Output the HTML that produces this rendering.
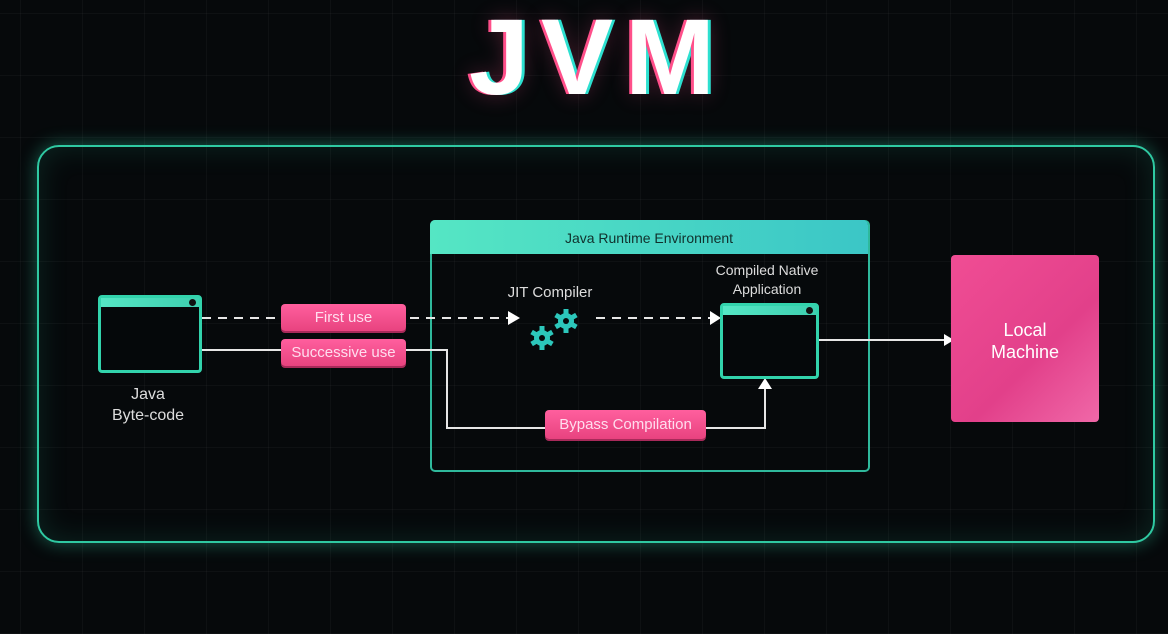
<!DOCTYPE html>
<html><head><style>
body{margin:0;width:1168px;height:634px;overflow:hidden;background:#06090b;font-family:"Liberation Sans",sans-serif;position:relative}
.grid{position:absolute;inset:0;background-image:linear-gradient(rgba(255,255,255,0.03) 1px,transparent 1px),linear-gradient(90deg,rgba(255,255,255,0.03) 1px,transparent 1px);background-size:62px 62px;background-position:20px 13px}
.abs{position:absolute}
.title{left:14px;width:1168px;top:-6px;text-align:center;font-size:108px;font-weight:bold;color:#fff;letter-spacing:12px;text-shadow:-3px 0 #ff4f8a,3px 0 #2de0d0,0 0 22px rgba(255,80,140,.3)}
.outer{left:37px;top:145px;width:1114px;height:394px;border:2px solid #2fc9a2;border-radius:22px;box-shadow:0 0 18px rgba(47,201,162,.45),inset 0 0 30px rgba(47,201,162,.15)}
.jre{left:430px;top:220px;width:436px;height:248px;border:2px solid #2fb99c;border-radius:5px}
.jrehead{left:430px;top:220px;width:438px;height:34px;background:linear-gradient(90deg,#55e6c4,#3bc6c6);border-radius:5px 5px 0 0;color:#10302c;font-size:14px;text-align:center;line-height:36px}
.win{border:3px solid #32d3ac;border-radius:4px;background:#05080a;box-sizing:border-box}
.win .bar{position:absolute;left:0;right:0;top:0;height:9px;background:linear-gradient(90deg,#55e6c4,#3ecfb0)}
.win .dot{position:absolute;right:3px;top:1px;width:7px;height:7px;border-radius:50%;background:#111}
.pill{background:linear-gradient(#ff5f9e,#e8437f);color:#fde;border-radius:4px;font-size:15px;text-align:center;box-shadow:0 2px 0 #a82a5a}
.lbl{color:#ddd;font-size:16px;text-align:center}
.local{left:951px;top:255px;width:148px;height:167px;background:linear-gradient(135deg,#f04d94,#e2408a 60%,#f068a8);border-radius:4px;color:#fff;font-size:18px;text-align:center;box-sizing:border-box;padding-top:64px;line-height:22px}
</style></head><body>
<div class="grid"></div>
<div class="abs title">JVM</div>
<div class="abs outer"></div>
<div class="abs jre"></div>
<div class="abs jrehead">Java Runtime Environment</div>

<svg class="abs" style="left:0;top:0" width="1168" height="634">
<g stroke="#e6e6e6" stroke-width="2" fill="none">
<line x1="202" y1="318" x2="508" y2="318" stroke-dasharray="9,7"/>
<line x1="596" y1="318" x2="710" y2="318" stroke-dasharray="9,7"/>
<polyline points="202,350 447,350 447,428 765,428 765,388"/>
<line x1="819" y1="340" x2="944" y2="340"/>
</g>
<g fill="#fff">
<polygon points="508,311 520,318 508,325"/>
<polygon points="710,311 721,318 710,325"/>
<polygon points="758,389 765,378 772,389"/>
<polygon points="944,334 954,340 944,346"/>
</g>
<g fill="#2cc7bb">
<g transform="translate(542,338)"><circle r="8"/><g><rect x="-2.5" y="-12" width="5" height="24"/><rect x="-2.5" y="-12" width="5" height="24" transform="rotate(60)"/><rect x="-2.5" y="-12" width="5" height="24" transform="rotate(120)"/></g><circle r="3" fill="#06090b"/></g>
<g transform="translate(566,321)"><circle r="8"/><g><rect x="-2.5" y="-12" width="5" height="24"/><rect x="-2.5" y="-12" width="5" height="24" transform="rotate(60)"/><rect x="-2.5" y="-12" width="5" height="24" transform="rotate(120)"/></g><circle r="3" fill="#06090b"/></g>
</g>
</svg>

<div class="abs win" style="left:98px;top:295px;width:104px;height:78px"><div class="bar"></div><div class="dot"></div></div>
<div class="abs lbl" style="left:88px;top:384px;width:120px;line-height:21px">Java<br>Byte-code</div>

<div class="abs pill" style="left:281px;top:304px;width:125px;height:27px;line-height:27px">First use</div>
<div class="abs pill" style="left:281px;top:339px;width:125px;height:27px;line-height:27px">Successive use</div>
<div class="abs pill" style="left:545px;top:410px;width:161px;height:29px;line-height:29px">Bypass Compilation</div>

<div class="abs lbl" style="left:480px;top:284px;width:140px;font-size:15px">JIT Compiler</div>
<div class="abs lbl" style="left:690px;top:261px;width:154px;font-size:14px;line-height:19px">Compiled Native<br>Application</div>
<div class="abs win" style="left:720px;top:303px;width:99px;height:76px"><div class="bar"></div><div class="dot"></div></div>

<div class="abs local">Local<br>Machine</div>
</body></html>
